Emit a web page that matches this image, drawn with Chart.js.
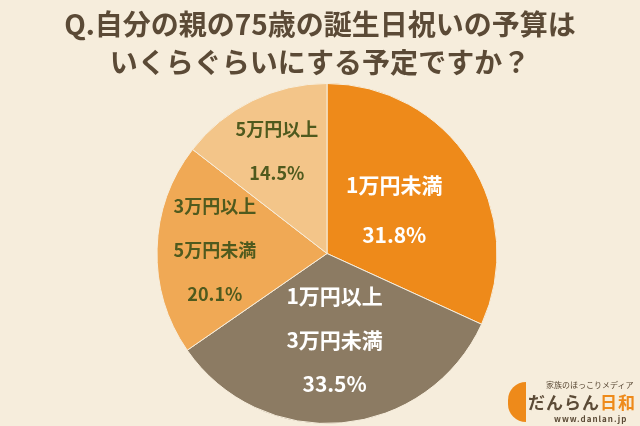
<!DOCTYPE html>
<html lang="ja">
<head>
<meta charset="UTF-8">
<script src="https://cdn.jsdelivr.net/npm/chart.js"></script>
<style>
  html, body { margin: 0; padding: 0; background: #f6eddc; }
  #wrap { position: relative; width: 640px; height: 426px; font-family: "Noto Sans CJK JP", sans-serif; overflow: hidden; }
  h1 { position: absolute; top: 4px; left: 0; width: 640px; margin: 0; text-align: center;
       font-size: 28px; line-height: 38px; font-weight: bold; color: #5b4a36; }
  .logo { position: absolute; left: 520px; top: 378px; color: #5b4a36; }
  .logo .half { position: absolute; left: -12px; top: 4px; width: 18px; height: 40px; border-radius: 20px 0 0 20px; background: #ee8a1a; }
  .logo .sub { position: absolute; left: 26px; top: 1px; font-size: 8px; white-space: nowrap; }
  .logo .name { position: absolute; left: 8px; top: 11px; font-size: 17px; font-weight: bold; white-space: nowrap; letter-spacing: 1px; }
  .logo .name span { color: #ee8a1a; }
  .logo .url { position: absolute; left: 34px; top: 35px; font-size: 8px; font-weight: bold; white-space: nowrap; letter-spacing: 1px; }
</style>
</head>
<body>
<div id="wrap">
  <canvas id="c" width="640" height="426"></canvas>
  <h1>Q.自分の親の75歳の誕生日祝いの予算は<br>いくらぐらいにする予定ですか？</h1>
  <div class="logo">
    <div class="half"></div>
    <div class="sub">家族のほっこりメディア</div>
    <div class="name">だんらん<span>日和</span></div>
    <div class="url">www.danlan.jp</div>
  </div>
</div>
<script>
const categories = [['1万円未満'], ['1万円以上', '3万円未満'], ['3万円以上', '5万円未満'], ['5万円以上']];
const values = [31.8, 33.5, 20.1, 14.5];
const colors = ['#ee8a1a', '#8c7b63', '#f0a955', '#f3c589'];
const textColors = ['#ffffff', '#ffffff', '#4f5a1e', '#4f5a1e'];
const labelRadius = [0.47, 0.51, 0.66, 0.67];

const labelPlugin = {
  id: 'sliceLabels',
  afterDatasetsDraw(chart) {
    const ctx = chart.ctx;
    chart.getDatasetMeta(0).data.forEach((arc, i) => {
      const p = arc.getProps(['x', 'y', 'startAngle', 'endAngle', 'outerRadius'], true);
      const a = (p.startAngle + p.endAngle) / 2;
      const r = p.outerRadius * labelRadius[i];
      const cx = p.x + Math.cos(a) * r;
      const cy = p.y + Math.sin(a) * r;
      const lines = categories[i].concat([values[i].toFixed(1) + '%']);
      const gap = i === 0 ? 50 : 44;
      ctx.save();
      ctx.fillStyle = textColors[i];
      ctx.textAlign = 'center';
      ctx.textBaseline = 'middle';
      ctx.font = 'bold ' + (i < 2 ? 21 : 18) + 'px "Noto Sans CJK JP", sans-serif';
      lines.forEach((t, j) => {
        ctx.fillText(t, cx, cy + (j - (lines.length - 1) / 2) * gap);
      });
      ctx.restore();
    });
  }
};

new Chart(document.getElementById('c'), {
  type: 'pie',
  data: {
    labels: categories.map(c => c.join('')),
    datasets: [{ data: values, backgroundColor: colors, borderColor: '#f6eddc', borderWidth: 1 }]
  },
  options: {
    responsive: false,
    animation: false,
    layout: { padding: { top: 83, bottom: 2, left: 14, right: 0 } },
    plugins: { legend: { display: false }, tooltip: { enabled: false } }
  },
  plugins: [labelPlugin]
});
</script>
</body>
</html>
